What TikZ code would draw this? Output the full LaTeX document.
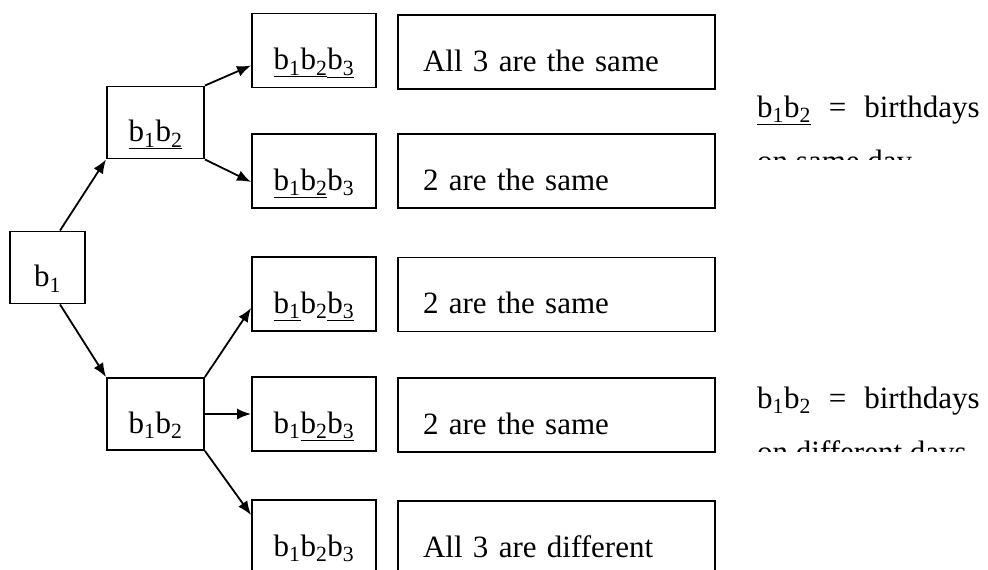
\documentclass[tikz,border=0pt]{standalone}
\usepackage{fontspec}
\setmainfont{Liberation Serif}
\usetikzlibrary{arrows.meta}
\newcommand{\ub}[1]{\underline{b\textsubscript{#1}}}
\newcommand{\pb}[1]{b\textsubscript{#1}}

\begin{document}
\begin{tikzpicture}[x=1pt, y=-1pt, >={Latex[length=14pt, width=11pt]},
    every node/.style={font=\fontsize{31}{37}\selectfont},
    box/.style={draw, line width=1.9pt, inner sep=0pt, text height=55pt, text depth=17pt},
    lbox/.style={box, minimum width=124pt, minimum height=74pt},
    rbox/.style={box, text width=267pt, inner xsep=25pt, minimum height=74pt, align=left},
    arr/.style={->, line width=1.8pt}]
    \useasboundingbox (0,0) rectangle (988,570);

    % 1. Cây chọn ngày sinh
    \node[box, minimum width=75pt, minimum height=72pt] (b1) at (47.5,267.5) {\pb{1}};
    \node[box, minimum width=97pt, minimum height=72pt] (t12) at (155.5,122.5) {\ub{1}\ub{2}};
    \node[box, minimum width=97pt, minimum height=72pt] (d12) at (155.5,414) {\pb{1}\pb{2}};

    % Ba người
    \node[lbox] (s1) at (314,50.5) {\ub{1}\ub{2}\ub{3}};
    \node[lbox] (s2) at (314,171) {\ub{1}\ub{2}\pb{3}};
    \node[lbox] (s3) at (314,294) {\ub{1}\pb{2}\ub{3}};
    \node[lbox] (s4) at (314,414) {\pb{1}\ub{2}\ub{3}};
    \node[lbox] (s5) at (314,537) {\pb{1}\pb{2}\pb{3}};

    \node[rbox] (r1) at (556.5,52) {All 3 are the same};
    \node[rbox] (r2) at (556.5,171) {2 are the same};
    \node[rbox] (r3) at (556.5,294.5) {2 are the same};
    \node[rbox] (r4) at (556.5,415) {2 are the same};
    \node[rbox] (r5) at (556.5,538) {All 3 are different};

    % Mũi tên
    \draw[arr] ([xshift=12.5pt]b1.north) -- (t12.south west);
    \draw[arr] ([xshift=12.5pt]b1.south) -- (d12.north west);
    \draw[arr] (t12.north east) -- ([yshift=-15pt]s1.west);
    \draw[arr] (t12.south east) -- ([yshift=-11pt]s2.west);
    \draw[arr] (d12.north east) -- ([yshift=-14pt]s3.west);
    \draw[arr] (d12.east) -- (s4.west);
    \draw[arr] (d12.south east) -- ([yshift=22pt]s5.west);

    % 2. Chú thích
    \node[anchor=base west, inner sep=0pt] (same) at (757,117)
        {\underline{b\textsubscript{1}b\textsubscript{2}}\hspace{18pt}=\hspace{18pt}birthdays};
    \node[anchor=base west, inner sep=0pt] (diff) at (757,408)
        {\pb{1}\pb{2}\hspace{18pt}=\hspace{18pt}birthdays};
    \begin{scope}
        \clip (740,130) rectangle (988,159);
        \node[anchor=base west, inner sep=0pt] (sameb) at (757,171) {on same day};
    \end{scope}
    \begin{scope}
        \clip (740,420) rectangle (988,451);
        \node[anchor=base west, inner sep=0pt] (diffb) at (757,462) {on different days};
    \end{scope}
\end{tikzpicture}
\end{document}
